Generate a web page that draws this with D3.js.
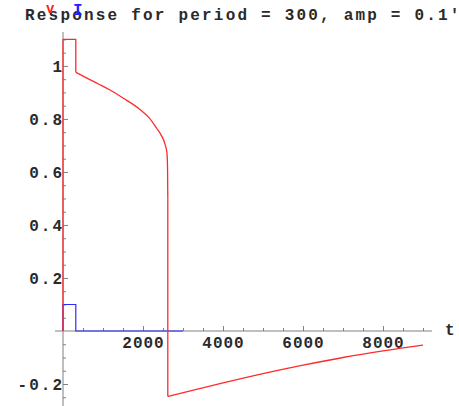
<!DOCTYPE html>
<html>
<head>
<meta charset="utf-8">
<script src="https://cdn.jsdelivr.net/npm/d3@7"></script>
<style>
  body { margin: 0; background: #fff; }
  text { font-family: "Liberation Mono", "DejaVu Sans Mono", monospace; }
</style>
</head>
<body>
<script>
// données
const titre = "Response for period = 300, amp = 0.1'";
// v (rouge) : créneau, descente lente, chute, retour
const tMontee = [0, 0, 320, 320];
const vMontee = [0, 1.10, 1.10, 0.976];
const tDescente = [320, 600, 900, 1175, 1500, 1925, 2150, 2350, 2450, 2550, 2600, 2615, 2620];
const vDescente = [0.976, 0.954, 0.931, 0.909, 0.879, 0.836, 0.805, 0.763, 0.74, 0.705, 0.67, 0.6, 0.5];
const tRetour = [2620, 4000, 5000, 6000, 7000, 8000, 9000];
const vRetour = [-0.247, -0.196, -0.161, -0.129, -0.100, -0.075, -0.053];
// I (bleu)
const tBleu = [0, 0, 320, 320, 3000];
const vBleu = [0, 0.1, 0.1, 0, 0];
const ticksX = [2000, 4000, 6000, 8000];
const ticksY = [-0.2, 0.2, 0.4, 0.6, 0.8, 1];

const W = 459, H = 406;
const svg = d3.select('body').append('svg')
  .attr('width', W)
  .attr('height', H);

const x = d3.scaleLinear().domain([-200, 9225]).range([55, 432]);
const y = d3.scaleLinear().domain([-0.283, 1.128]).range([406, 32]);

const gris = '#808080';
const police = '"Liberation Mono", monospace';
const encre = '#2a2a2a';

// axe horizontal
svg.append('line')
  .attr('x1', x(-200)).attr('x2', x(9225))
  .attr('y1', y(0)).attr('y2', y(0))
  .attr('stroke', gris);
// axe vertical
svg.append('line')
  .attr('x1', x(0)).attr('x2', x(0))
  .attr('y1', y(1.128)).attr('y2', y(-0.283))
  .attr('stroke', gris);

// petites graduations
const petitsX = d3.range(500, 9001, 500).filter(v => v % 2000 !== 0);
svg.append('g')
  .attr('transform', `translate(0,${y(0)})`)
  .call(d3.axisBottom(x).tickValues(petitsX).tickSizeInner(-3).tickSizeOuter(0).tickFormat(''))
  .call(g => g.select('.domain').remove())
  .call(g => g.selectAll('line').attr('stroke', gris));
const petitsY = d3.range(-0.25, 1.11, 0.05).filter(v => Math.abs(v * 5 - Math.round(v * 5)) > 1e-6);
svg.append('g')
  .attr('transform', `translate(${x(0)},0)`)
  .call(d3.axisLeft(y).tickValues(petitsY).tickSizeInner(-3).tickSizeOuter(0).tickFormat(''))
  .call(g => g.select('.domain').remove())
  .call(g => g.selectAll('line').attr('stroke', gris));

// grandes graduations + étiquettes
svg.append('g')
  .attr('transform', `translate(0,${y(0)})`)
  .call(d3.axisBottom(x).tickValues(ticksX).tickSizeInner(-5).tickSizeOuter(0).tickPadding(6).tickFormat(d3.format('d')))
  .call(g => g.select('.domain').remove())
  .call(g => g.selectAll('line').attr('stroke', gris))
  .call(g => g.selectAll('text')
    .attr('font-family', police)
    .attr('font-size', 16)
    .attr('font-weight', 'bold')
    .attr('letter-spacing', '1px')
    .attr('fill', encre));

svg.append('g')
  .attr('transform', `translate(${x(0)},0)`)
  .call(d3.axisLeft(y).tickValues(ticksY).tickSizeInner(-5).tickSizeOuter(0).tickPadding(-1)
    .tickFormat(d => d === 1 ? '1' : d3.format('.1f')(d).replace('−', '-')))
  .call(g => g.select('.domain').remove())
  .call(g => g.selectAll('line').attr('stroke', gris))
  .call(g => g.selectAll('text')
    .attr('font-family', police)
    .attr('font-size', 16)
    .attr('font-weight', 'bold')
    .attr('letter-spacing', '2px')
    .attr('fill', encre));

// étiquette t
svg.append('text')
  .attr('x', 445).attr('y', 335)
  .attr('font-size', 16)
  .attr('font-weight', 'bold')
  .attr('fill', encre)
  .text('t');

// courbes
const ligne = d3.line().x(d => x(d[0])).y(d => y(d[1]));
const lisse = d3.line().x(d => x(d[0])).y(d => y(d[1])).curve(d3.curveMonotoneX);

svg.append('path')
  .attr('d', ligne(d3.zip(tBleu, vBleu)))
  .attr('fill', 'none')
  .attr('stroke', '#2b2bff')
  .attr('stroke-width', 1.2);

const rouge = svg.append('g')
  .attr('fill', 'none')
  .attr('stroke', '#ff2b2b')
  .attr('stroke-width', 1.3)
  .attr('stroke-linejoin', 'round');
rouge.append('path').attr('d', ligne(d3.zip(tMontee, vMontee)));
rouge.append('path').attr('d', lisse(d3.zip(tDescente, vDescente)));
// chute verticale entre la fin de la descente et le début du retour
rouge.append('path').attr('d', ligne([
  [tDescente[tDescente.length - 1], vDescente[vDescente.length - 1]],
  [tRetour[0], vRetour[0]]
]));
rouge.append('path').attr('d', lisse(d3.zip(tRetour, vRetour)));

// titre
svg.append('text')
  .attr('x', 25).attr('y', 20)
  .attr('font-size', 16)
  .attr('font-weight', 'bold')
  .attr('letter-spacing', '2.2px')
  .attr('fill', encre)
  .text(titre);

// v et I
svg.append('text')
  .attr('x', 46).attr('y', 13)
  .attr('font-family', '"Liberation Serif", serif')
  .attr('font-size', 14)
  .attr('font-weight', 'bold')
  .attr('fill', '#ff2020')
  .text('v');
svg.append('text')
  .attr('x', 73).attr('y', 15)
  .attr('font-family', '"Liberation Serif", serif')
  .attr('font-size', 16)
  .attr('font-weight', 'bold')
  .attr('fill', '#2020ff')
  .text('I');
</script>
</body>
</html>
